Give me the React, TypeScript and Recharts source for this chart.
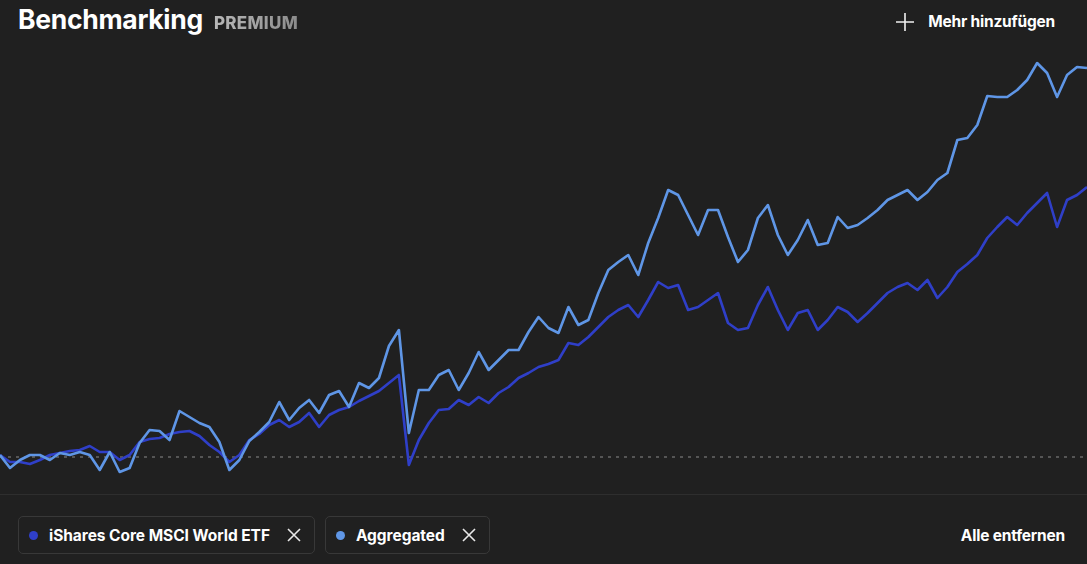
import React from 'react';
import { LineChart, Line, XAxis, YAxis, ReferenceLine } from 'recharts';

// Performance in %, evenly spaced in time
const aggregated = [
  1, -5.5, -1.5, 1, 1, -1.5, 2, 1, 2.5, 1,
  -6.5, 2.5, -7.5, -5.5, 7, 13.5, 13, 8.5, 23, 20,
  17, 15, 7.5, -6.5, -1.5, 8, 12.5, 17.5, 27.5, 18.5,
  24.5, 28.5, 22, 31, 33, 25, 37, 34.5, 39.5, 55.5,
  63.5, 12, 33.5, 33.5, 41, 43.5, 33.5, 42, 52.5, 43.5,
  48.5, 53.5, 53.5, 62.5, 70, 64.5, 62, 75, 66, 68.5,
  82, 93.5, 97.5, 101, 91, 107, 119.5, 133.5, 131, 121,
  111, 123.5, 123.5, 110, 97.5, 103.5, 119.5, 126, 111, 101,
  108.5, 118.5, 106, 107, 120, 114.5, 116, 119.5, 123.5, 128.5,
  131, 133.5, 128.5, 132.5, 138.5, 142, 158.5, 159.5, 166, 180.5,
  180, 180, 183.5, 188.5, 197, 192, 180, 191, 195, 194.5,
];

const ishares = [
  1, -2.5, -2.5, -3.5, -1.5, 1, 2, 3, 3.5, 5.5,
  2.5, 2.5, -1.5, 1, 7.5, 9, 9.5, 11.5, 12.5, 13,
  10.5, 6, 2.5, -2.5, 1, 8.5, 11.5, 16, 18.5, 15,
  17.5, 22, 15, 21, 23.5, 25, 28, 30.5, 33, 37,
  41, -4, 8.5, 17, 23.5, 24, 28.5, 26, 30, 27,
  32, 35, 39.5, 42, 45, 46.5, 48.5, 57, 56, 60,
  65, 70, 73.5, 76, 70, 78.5, 87.5, 84.5, 86, 73.5,
  75, 78.5, 82, 67, 63.5, 64.5, 76, 85, 73.5, 63.5,
  72, 73.5, 63.5, 68.5, 75, 72.5, 67.5, 72, 77, 82,
  85, 87, 83.5, 88.5, 79.5, 85, 92.5, 96.5, 101, 109.5,
  115, 120, 116, 122, 127, 132, 115, 128.5, 131, 135,
];

const series = [
  { key: 'ishares', label: 'iShares Core MSCI World ETF', color: '#2f3fc8' },
  { key: 'aggregated', label: 'Aggregated', color: '#5f96e6' },
];

const data = aggregated.map((v, i) => ({ i, aggregated: v, ishares: ishares[i] }));

const FONT = 'Inter, "Noto Sans", sans-serif';

const CrossIcon = () => (
  <svg width="14" height="14" viewBox="0 0 14 14" style={{ display: 'block' }}>
    <path d="M1 1 L13 13 M13 1 L1 13" stroke="#e8e8e8" strokeWidth="1.6" />
  </svg>
);

const Chip = ({ color, label }: { color: string; label: string }) => (
  <div
    style={{
      display: 'flex',
      alignItems: 'center',
      height: 38,
      padding: '0 13px 0 10px',
      border: '1px solid #383838',
      borderRadius: 5,
      marginRight: 10,
      boxSizing: 'border-box',
    }}
  >
    <span style={{ width: 9, height: 9, borderRadius: '50%', background: color, marginRight: 11 }} />
    <span style={{ color: '#fff', fontSize: 15.5, fontWeight: 700, letterSpacing: -0.05, marginRight: 17 }}>{label}</span>
    <CrossIcon />
  </div>
);

export default function App() {
  return (
    <div
      style={{
        position: 'absolute',
        left: 0,
        top: 0,
        width: 1087,
        height: 564,
        background: '#202020',
        fontFamily: FONT,
        overflow: 'hidden',
      }}
    >
      {/* header */}
      <div style={{ position: 'absolute', left: 18, top: 3, display: 'flex', alignItems: 'baseline' }}>
        <span style={{ color: '#fff', fontSize: 26.5, fontWeight: 700, letterSpacing: -0.3 }}>Benchmarking</span>
        <span
          style={{
            marginLeft: 11,
            fontSize: 17,
            fontWeight: 800,
            letterSpacing: 0.3,
            background: 'linear-gradient(90deg, #b8b8b8, #8c8c8c)',
            WebkitBackgroundClip: 'text',
            color: 'transparent',
          }}
        >
          PREMIUM
        </span>
      </div>
      <div style={{ position: 'absolute', right: 32, top: 12, display: 'flex', alignItems: 'center' }}>
        <svg width="18" height="18" viewBox="0 0 18 18" style={{ marginRight: 14 }}>
          <path d="M9 0 V18 M0 9 H18" stroke="#f0f0f0" strokeWidth="1.6" />
        </svg>
        <span style={{ color: '#fff', fontSize: 15.5, fontWeight: 700, letterSpacing: -0.2 }}>Mehr hinzufügen</span>
      </div>

      {/* chart */}
      <div style={{ position: 'absolute', left: 0, top: 57 }}>
        <LineChart width={1087} height={420} data={data} margin={{ top: 0, right: 0, bottom: 0, left: 0 }}>
          <XAxis dataKey="i" hide />
          <YAxis hide domain={[-10, 200]} allowDataOverflow />
          <ReferenceLine y={0} stroke="#8a8a8a" strokeDasharray="3 5" strokeWidth={1} />
          {series.map((s) => (
            <Line
              key={s.key}
              dataKey={s.key}
              stroke={s.color}
              strokeWidth={2.6}
              strokeLinejoin="round"
              dot={false}
              type="linear"
              isAnimationActive={false}
            />
          ))}
        </LineChart>
      </div>

      {/* separator */}
      <div style={{ position: 'absolute', left: 0, top: 494, width: 1087, height: 1, background: '#2e2e2e' }} />

      {/* legend chips */}
      <div style={{ position: 'absolute', left: 18, top: 516, display: 'flex' }}>
        {series.map((s) => (
          <Chip key={s.key} color={s.color} label={s.label} />
        ))}
      </div>
      <div style={{ position: 'absolute', right: 22, top: 526, color: '#fff', fontSize: 15.5, fontWeight: 700, letterSpacing: -0.2 }}>
        Alle entfernen
      </div>
    </div>
  );
}
